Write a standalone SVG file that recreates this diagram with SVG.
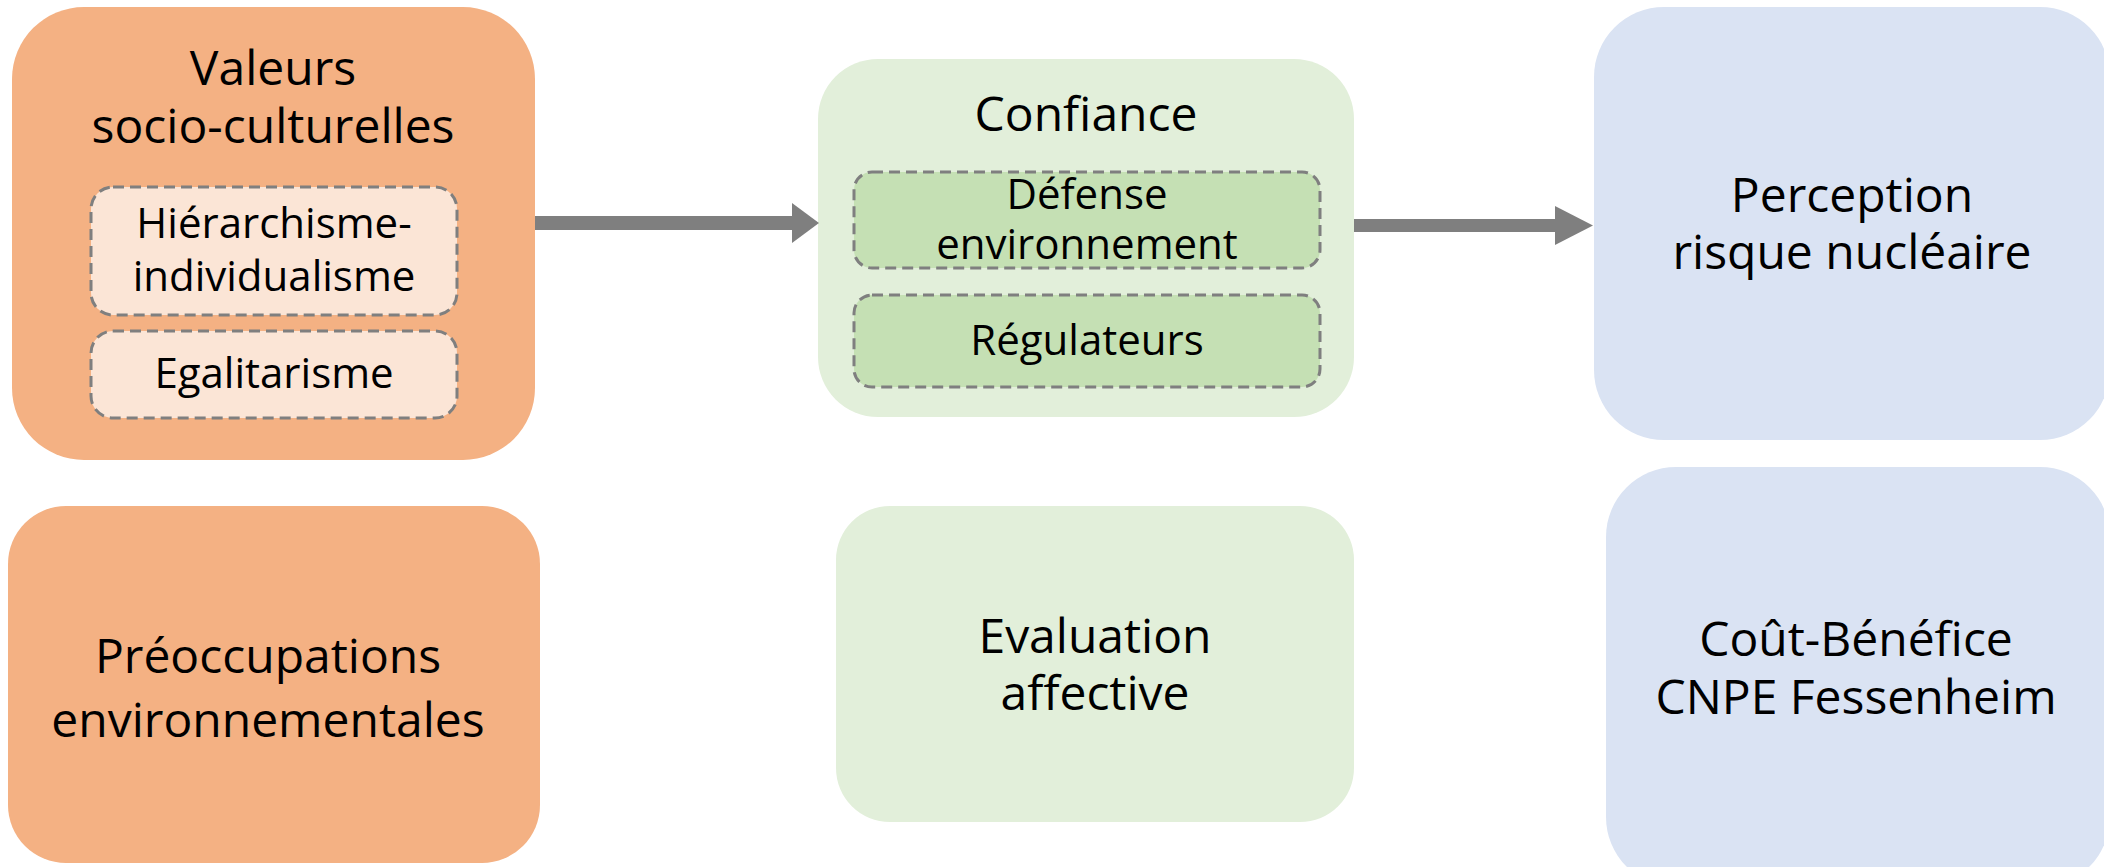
<svg xmlns="http://www.w3.org/2000/svg" width="2104" height="867" viewBox="0 0 2104 867">
<style>
text{font-family:"Open Sans","Noto Sans","Liberation Sans",sans-serif;font-size:48px;fill:#000;text-anchor:middle}
text.in{font-size:42px}
.orange{fill:#f4b183}
.orangeL{fill:#fbe5d6;stroke:#7f7f7f;stroke-width:3;stroke-dasharray:11 6}
.greenL{fill:#e2efda}
.green{fill:#c5e0b4;stroke:#7f7f7f;stroke-width:3;stroke-dasharray:11 6}
.blue{fill:#dae3f3}
.conn{stroke:#7f7f7f;fill:none}
</style>
<defs>
<marker id="h1" markerUnits="userSpaceOnUse" markerWidth="27" markerHeight="40" refX="0" refY="20" orient="auto" viewBox="0 0 27 40"><path d="M0,0 L27,20 L0,40 z" fill="#7f7f7f"/></marker>
<marker id="h2" markerUnits="userSpaceOnUse" markerWidth="38" markerHeight="39" refX="0" refY="19.5" orient="auto" viewBox="0 0 38 39"><path d="M0,0 L38,19.5 L0,39 z" fill="#7f7f7f"/></marker>
</defs>
<g id="valeurs">
<rect class="orange" x="12" y="7" width="523" height="453" rx="72"/>
<text x="273" y="85">Valeurs</text>
<text x="273" y="143">socio-culturelles</text>
</g>
<g id="hierarchisme">
<rect class="orangeL" x="91" y="187" width="366" height="128" rx="22"/>
<text class="in" x="274" y="238">Hiérarchisme-</text>
<text class="in" x="274" y="291">individualisme</text>
</g>
<g id="egalitarisme">
<rect class="orangeL" x="91" y="331" width="366" height="87" rx="22"/>
<text class="in" x="274" y="388">Egalitarisme</text>
</g>
<g id="preoccupations">
<rect class="orange" x="8" y="506" width="532" height="357" rx="58"/>
<text x="268" y="673">Préoccupations</text>
<text x="268" y="737">environnementales</text>
</g>
<g id="confiance">
<rect class="greenL" x="818" y="59" width="536" height="358" rx="60"/>
<text x="1086" y="131">Confiance</text>
</g>
<g id="defense">
<rect class="green" x="854" y="172" width="466" height="96" rx="18"/>
<text class="in" x="1087" y="209">Défense</text>
<text class="in" x="1087" y="259">environnement</text>
</g>
<g id="regulateurs">
<rect class="green" x="854" y="295" width="466" height="92" rx="18"/>
<text class="in" x="1087" y="355">Régulateurs</text>
</g>
<g id="evaluation">
<rect class="greenL" x="836" y="506" width="518" height="316" rx="54"/>
<text x="1095" y="653">Evaluation</text>
<text x="1095" y="710">affective</text>
</g>
<g id="perception">
<rect class="blue" x="1594" y="7" width="516" height="433" rx="70"/>
<text x="1852" y="212">Perception</text>
<text x="1852" y="269">risque nucléaire</text>
</g>
<g id="coutbenefice">
<rect class="blue" x="1606" y="467" width="504" height="420" rx="70"/>
<text x="1856" y="656">Coût-Bénéfice</text>
<text x="1856" y="714">CNPE Fessenheim</text>
</g>
<g id="connectors">
<line class="conn" x1="535" y1="223" x2="792" y2="223" stroke-width="14" marker-end="url(#h1)"/>
<line class="conn" x1="1354" y1="225.5" x2="1555" y2="225.5" stroke-width="13" marker-end="url(#h2)"/>
</g>
</svg>
